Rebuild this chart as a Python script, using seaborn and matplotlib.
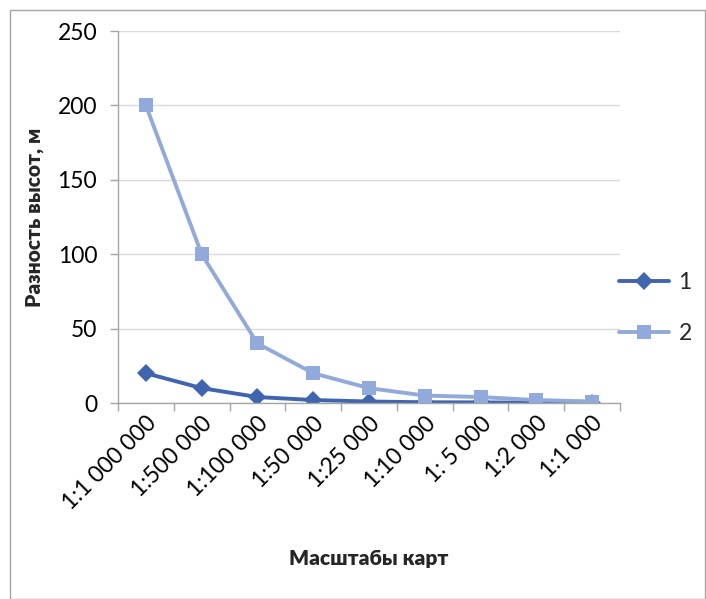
import matplotlib
matplotlib.use("Agg")
import matplotlib.pyplot as plt
import seaborn as sns
import pandas as pd
from matplotlib.patches import Rectangle

# Map scales and height differences for the two series
scales = ["1:1 000 000", "1:500 000", "1:100 000", "1:50 000", "1:25 000",
          "1:10 000", "1: 5 000", "1:2 000", "1:1 000"]
series_1 = [20, 10, 4, 2, 1, 0.5, 0.4, 0.2, 0.1]
series_2 = [200, 100, 40, 20, 10, 5, 4, 2, 1]
series_names = ["1", "2"]
colors = ["#4065AF", "#92A9DB"]
markers = ["D", "s"]

sns.set_theme(style="white")
plt.rcParams["font.family"] = ["Lato", "DejaVu Sans"]

df = pd.DataFrame({
    "pos": list(range(len(scales))) * 2,
    "value": series_1 + series_2,
    "series": [series_names[0]] * len(scales) + [series_names[1]] * len(scales),
})

fig = plt.figure(figsize=(7.06, 5.99), dpi=100)
ax = fig.add_axes([118 / 706, 1 - 403 / 599, 502 / 706, 372 / 599])

for name, col, mk in zip(series_names, colors, markers):
    sub = df[df["series"] == name]
    sns.lineplot(data=sub, x="pos", y="value", ax=ax, color=col, marker=mk,
                 markersize=9.5 if mk == "s" else 9, markeredgewidth=0,
                 linewidth=2.8, label=name)

ax.set_xlim(-0.5, len(scales) - 0.5)
ax.set_ylim(0, 250)
ax.set_yticks(range(0, 251, 50))
ax.yaxis.grid(True, color="#D9D9D9", linewidth=1.0)
ax.set_axisbelow(True)

ax.set_xticks(range(len(scales)))
ax.set_xticklabels(scales, rotation=45, ha="right", rotation_mode="anchor",
                   fontsize=16.5, color="#000000")
ax.set_xticks([i - 0.5 for i in range(len(scales) + 1)], minor=True)
ax.tick_params(axis="x", which="major", length=0, pad=7)
ax.tick_params(axis="x", which="minor", length=6, width=1, color="#A6A6A6",
               direction="out", bottom=True)
ax.tick_params(axis="y", which="major", length=6, width=1, color="#A6A6A6",
               direction="out", left=True, labelsize=16.5, labelcolor="#000000", pad=9)

for side in ["top", "right"]:
    ax.spines[side].set_visible(False)
ax.spines["left"].set_color("#A6A6A6")
ax.spines["bottom"].set_color("#A6A6A6")
ax.spines["left"].set_linewidth(1)
ax.spines["bottom"].set_linewidth(1)

ax.set_xlabel("Масштабы карт", fontsize=15, fontweight="heavy", labelpad=25)
ax.set_ylabel("Разность высот, м", fontsize=15, fontweight="heavy", labelpad=10)

leg = ax.legend(loc="center left", bbox_to_anchor=(619 / 706, 1 - 308 / 599),
                bbox_transform=fig.transFigure, frameon=False, fontsize=16.5,
                handlelength=2.2, handletextpad=0.4, labelspacing=1.3,
                borderpad=0, borderaxespad=0)

# chart frame
fig.patches.append(Rectangle((10 / 706, 0), 695 / 706, 1 - 10 / 599,
                             transform=fig.transFigure, fill=False,
                             edgecolor="#A6A6A6", linewidth=1))

fig.savefig("out.png", dpi=100)
